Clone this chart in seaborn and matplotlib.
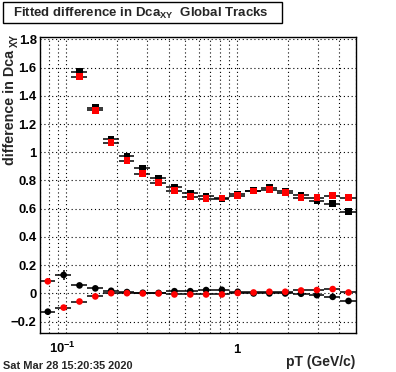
import numpy as np
import pandas as pd
import matplotlib
matplotlib.use("Agg")
import matplotlib.pyplot as plt
import matplotlib.ticker as mticker
import matplotlib.patches as mpatches
import matplotlib.transforms as mtrans
import seaborn as sns

# ---- data -------------------------------------------------------------
bin_edges = [0.0700, 0.0866, 0.1073, 0.1328, 0.1644, 0.2035, 0.2519, 0.3119,
             0.3861, 0.4779, 0.5917, 0.7325, 0.9068, 1.1225, 1.3896, 1.7203,
             2.1297, 2.6363, 3.2636, 4.0403, 5.0000]

black_square = [np.nan, np.nan, 1.571, 1.316, 1.094, 0.974, 0.887, 0.816, 0.754, 0.712,
                0.690, 0.672, 0.705, 0.728, 0.749, 0.726, 0.698, 0.657, 0.636, 0.579]
red_square = [np.nan, np.nan, 1.535, 1.297, 1.068, 0.941, 0.849, 0.785, 0.728, 0.686,
              0.672, 0.676, 0.693, 0.726, 0.735, 0.714, 0.679, 0.679, 0.693, 0.679]
black_circle = [-0.129, 0.131, 0.057, 0.036, 0.019, 0.010, 0.005, 0.004, 0.016, 0.016,
                0.024, 0.026, 0.012, 0.000, 0.000, 0.000, -0.002, -0.012, -0.024, -0.053]
red_circle = [0.086, -0.100, -0.057, -0.021, 0.002, 0.002, 0.000, 0.000, -0.007, -0.007,
              -0.007, -0.007, 0.003, 0.007, 0.012, 0.012, 0.021, 0.024, 0.031, 0.007]

err_black_square = [0.01] * 20
err_red_square = [0.01] * 20
err_black_circle = [0.02, 0.035, 0.012, 0.008, 0.006, 0.006, 0.005, 0.005, 0.005, 0.005,
                    0.005, 0.005, 0.005, 0.005, 0.005, 0.006, 0.006, 0.008, 0.010, 0.012]
err_red_circle = [0.015, 0.015, 0.010, 0.006, 0.005, 0.005, 0.005, 0.005, 0.005, 0.005,
                  0.005, 0.005, 0.005, 0.005, 0.005, 0.006, 0.006, 0.008, 0.010, 0.012]

series_names = ["black square", "black circle", "red square", "red circle"]
series_values = [black_square, black_circle, red_square, red_circle]
series_errors = [err_black_square, err_black_circle, err_red_square, err_red_circle]
series_colors = {"black square": "black", "black circle": "black",
                 "red square": "#ff0000", "red circle": "#ff0000"}
series_markers = {"black square": "s", "black circle": "o",
                  "red square": "s", "red circle": "o"}

title_text = r"Fitted difference in Dca$_{XY}$  Global Tracks"
ylabel_main = "difference in Dca"
ylabel_sub = "XY"
xlabel_text = "pT (GeV/c)"
date_text = "Sat Mar 28 15:20:35 2020"

# ---- style ------------------------------------------------------------
sns.set_style("white")
plt.rcParams["font.family"] = ["Liberation Sans", "DejaVu Sans"]
plt.rcParams["font.weight"] = "bold"
plt.rcParams["mathtext.fontset"] = "custom"
plt.rcParams["mathtext.rm"] = "Liberation Sans:bold"
plt.rcParams["mathtext.it"] = "Liberation Sans:bold"
plt.rcParams["mathtext.bf"] = "Liberation Sans:bold"
plt.rcParams["mathtext.default"] = "regular"

edges = np.array(bin_edges)
centers = 0.5 * (edges[:-1] + edges[1:])
xerr = [centers - edges[:-1], edges[1:] - centers]

rows = []
for name, vals in zip(series_names, series_values):
    for c, v in zip(centers, vals):
        rows.append({"pT": c, "diff": v, "series": name})
df = pd.DataFrame(rows)

W, H = 396, 372
fig = plt.figure(figsize=(W / 100, H / 100), dpi=100)
fig.patch.set_facecolor("white")
ax = fig.add_axes([39.5 / W, 1 - 333 / H, (356 - 39.5) / W, (333 - 37.3) / H])

for name, vals, errs in zip(series_names, series_values, series_errors):
    ax.errorbar(centers, vals, xerr=xerr, yerr=errs, fmt="none", ecolor="black",
                elinewidth=1.1, capsize=0, zorder=2)

sns.scatterplot(data=df, x="pT", y="diff", hue="series", style="series",
                palette=series_colors, markers=series_markers, s=23,
                linewidth=0, legend=False, ax=ax, zorder=3)

ax.set_xscale("log")
ax.set_xlim(0.07, 5.0)
ax.set_ylim(-0.28, 1.814)

ax.set_xticks([0.1, 1], labels=[r"$10^{-1}$", "1"])
ax.xaxis.set_minor_locator(mticker.LogLocator(base=10, subs=np.arange(2, 10)))
ax.xaxis.set_minor_formatter(mticker.NullFormatter())

yt = np.round(np.arange(-0.2, 1.81, 0.2), 2)
ax.set_yticks(yt, labels=[("\u2212" if v < 0 else "") + f"{abs(v):g}" for v in yt])
ax.yaxis.set_minor_locator(mticker.MultipleLocator(0.05))

ax.tick_params(axis="both", which="both", direction="in", top=False, right=False,
               color="black", labelcolor="black", labelsize=9.4)
ax.tick_params(axis="both", which="major", length=7, width=0.8)
ax.tick_params(axis="both", which="minor", length=3.5, width=0.8)
ax.tick_params(axis="y", which="major", pad=2)
ax.tick_params(axis="x", which="major", pad=14.5)
for lab in ax.get_xticklabels():
    lab.set_verticalalignment("baseline")
    lab.set_fontweight("bold")
for lab in ax.get_yticklabels():
    lab.set_fontweight("bold")
first = ax.get_xticklabels()[0]
first.set_transform(first.get_transform() + mtrans.ScaledTranslation(-4 / 100, 0, fig.dpi_scale_trans))

grid_kw = dict(color="black", linestyle=(0, (1, 2.5)), linewidth=0.8)
ax.grid(True, which="both", axis="x", **grid_kw)
ax.grid(True, which="major", axis="y", **grid_kw)
ax.set_axisbelow(True)

for sp in ax.spines.values():
    sp.set_color("black")
    sp.set_linewidth(1.0)

ax.set_xlabel("")
ax.set_ylabel("")
# y-axis title: main part plus XY subscript placed at the top end
fig.text(3.0 / W, 1 - 49.5 / H, ylabel_main, rotation=90, ha="left", va="top",
         fontsize=10.3, fontweight="bold")
fig.text(10.0 / W, 1 - 34 / H, ylabel_sub, rotation=90, ha="left", va="top",
         fontsize=7.0, fontweight="bold")
fig.text(355 / W, 1 - 366 / H, xlabel_text, ha="right", va="baseline",
         fontsize=10, fontweight="bold")
fig.text(3 / W, 1 - 369 / H, date_text, ha="left", va="baseline",
         fontsize=7.9, fontweight="bold")

box = mpatches.Rectangle((3 / W, 1 - 23 / H), 279 / W, 21 / H, transform=fig.transFigure,
                         facecolor="white", edgecolor="black", linewidth=1.0)
fig.patches.append(box)
fig.text(13 / W, 1 - 16.5 / H, title_text, ha="left", va="baseline",
         fontsize=9.5, fontweight="bold")

fig.savefig("out.png", dpi=100)
